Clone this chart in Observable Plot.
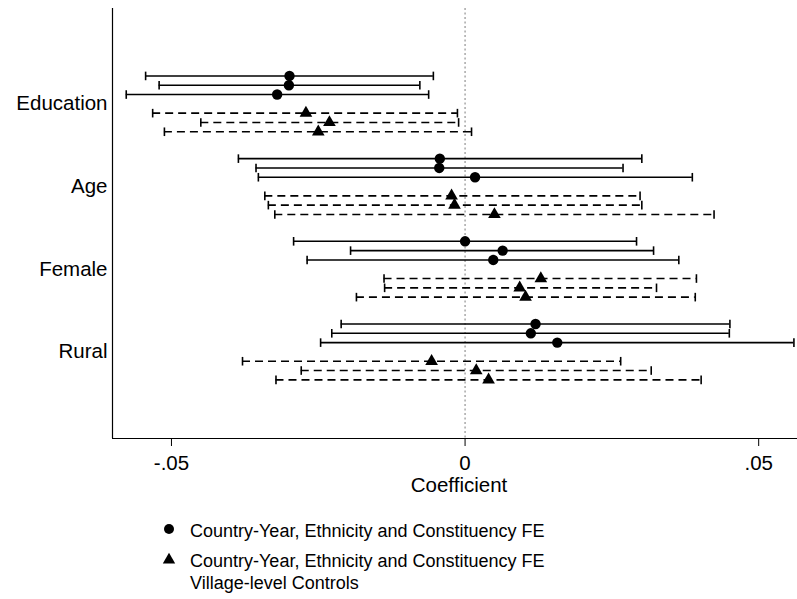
<!DOCTYPE html>
<html><head><meta charset="utf-8">
<script src="https://cdn.jsdelivr.net/npm/d3@7"></script>
<script src="https://cdn.jsdelivr.net/npm/@observablehq/plot@0.6"></script>
<style>
body{margin:0;background:#fff;font-family:"Liberation Sans",Arial,Helvetica,sans-serif;}
#wrap{position:relative;width:797px;height:599px;overflow:hidden;background:#fff;}
#chart{position:absolute;left:0;top:0;}
.lg{position:absolute;left:190px;font-size:18px;line-height:20px;color:#000;white-space:nowrap;}
.mk{position:absolute;left:162px;}
</style></head><body><div id="wrap"><div id="chart"></div></div>
<script>
// ---- data ----
const categories = ["Education", "Age", "Female", "Rural"];
const modelTypes = ["FE", "FE", "FE", "FE + Controls", "FE + Controls", "FE + Controls"];
const legendLabels = [
  ["Country-Year, Ethnicity and Constituency FE"],
  ["Country-Year, Ethnicity and Constituency FE", "Village-level Controls"]
];
const xTicks = [-0.05, 0, 0.05];
const xTickLabels = ["-.05", "0", ".05"];

// point estimates per category (6 models each)
const educationCoef = [-0.0299, -0.0300, -0.0320, -0.0271, -0.0231, -0.0250];
const ageCoef       = [-0.0043, -0.0044,  0.0017, -0.0023, -0.0018,  0.0050];
const femaleCoef    = [ 0.0000,  0.0064,  0.0048,  0.0129,  0.0093,  0.0103];
const ruralCoef     = [ 0.0120,  0.0112,  0.0157, -0.0057,  0.0019,  0.0040];
// lower CI bounds
const educationLo = [-0.0544, -0.0521, -0.0577, -0.0532, -0.0450, -0.0512];
const ageLo       = [-0.0386, -0.0356, -0.0352, -0.0341, -0.0335, -0.0324];
const femaleLo    = [-0.0292, -0.0195, -0.0269, -0.0138, -0.0137, -0.0185];
const ruralLo     = [-0.0211, -0.0227, -0.0246, -0.0379, -0.0279, -0.0322];
// upper CI bounds
const educationHi = [-0.0054, -0.0077, -0.0062, -0.0013, -0.0011,  0.0011];
const ageHi       = [ 0.0301,  0.0269,  0.0387,  0.0298,  0.0301,  0.0424];
const femaleHi    = [ 0.0292,  0.0321,  0.0364,  0.0394,  0.0326,  0.0392];
const ruralHi     = [ 0.0451,  0.0450,  0.0560,  0.0265,  0.0317,  0.0402];

// ---- table ----
const coefs = [educationCoef, ageCoef, femaleCoef, ruralCoef];
const los = [educationLo, ageLo, femaleLo, ruralLo];
const his = [educationHi, ageHi, femaleHi, ruralHi];
const rows = [];
categories.forEach((c, g) => {
  modelTypes.forEach((t, i) => {
    rows.push({cat: c, g, i, type: t, coef: coefs[g][i], lo: los[g][i], hi: his[g][i]});
  });
});
// layout of models within a category: 7 slots, middle one empty
const step = 0.1125;
const yPos = d => d.g + (((d.i < 3) ? d.i : d.i + 1) - 3) * step;
const solid = rows.filter(d => d.type === "FE");
const dashed = rows.filter(d => d.type !== "FE");

const xDomain = [-0.06004, 0.05661];
const yDomain = [4.047, -1.153];

const capSymbol = {draw(ctx, size) { const r = Math.sqrt(size / Math.PI); ctx.moveTo(0, -r); ctx.lineTo(0, r); }};

const font = "'Liberation Sans', Arial, Helvetica, sans-serif";
const axisFont = 20.5;
const plot = Plot.plot({
  width: 797,
  height: 505,
  marginLeft: 112,
  marginRight: 0,
  marginTop: 8,
  marginBottom: 67,
  style: {fontFamily: font, fontSize: axisFont + "px", background: "white", color: "black"},
  x: {domain: xDomain, axis: null},
  y: {domain: yDomain, axis: null},
  marks: [
    Plot.ruleX([0], {stroke: "#9a9a9a", strokeWidth: 1.3, strokeDasharray: "2,2.5"}),
    Plot.ruleY(solid, {y: yPos, x1: "lo", x2: "hi", stroke: "black", strokeWidth: 1.6}),
    Plot.ruleY(dashed, {y: yPos, x1: "lo", x2: "hi", stroke: "black", strokeWidth: 1.6, strokeDasharray: "8,5"}),
    Plot.dot(rows, {x: "lo", y: yPos, symbol: capSymbol, r: 4.3, fill: "none", stroke: "black", strokeWidth: 1.6}),
    Plot.dot(rows, {x: "hi", y: yPos, symbol: capSymbol, r: 4.3, fill: "none", stroke: "black", strokeWidth: 1.6}),
    Plot.dot(solid, {x: "coef", y: yPos, r: 5.2, fill: "black", stroke: "none"}),
    Plot.dot(dashed, {x: "coef", y: yPos, symbol: "triangle", r: 4.7, fill: "black", stroke: "none"}),
    Plot.ruleX([xDomain[0]], {stroke: "black", strokeWidth: 1.2}),
    Plot.ruleY([yDomain[0]], {stroke: "black", strokeWidth: 1.2}),
    Plot.axisX({ticks: xTicks, tickFormat: d => xTickLabels[xTicks.indexOf(d)], tickSize: 8, tickPadding: 9, fontSize: axisFont, label: null, stroke: "black"}),
    Plot.axisY({ticks: [0, 1, 2, 3], tickFormat: d => categories[d], tickSize: 0, tickPadding: 5, fontSize: axisFont, label: null}),
    Plot.text(["Coefficient"], {text: d => d, frameAnchor: "bottom", dy: 47, dx: 4, lineAnchor: "middle", fontSize: axisFont})
  ]
});
document.getElementById("chart").appendChild(plot);

// ---- legend (HTML below the plot) ----
const wrap = document.getElementById("wrap");
function addMarker(top, shape) {
  const ns = "http://www.w3.org/2000/svg";
  const s = document.createElementNS(ns, "svg");
  s.setAttribute("width", 14); s.setAttribute("height", 14);
  s.setAttribute("class", "mk");
  s.style.top = (top - 7) + "px";
  let el;
  if (shape === "circle") {
    el = document.createElementNS(ns, "circle");
    el.setAttribute("cx", 7); el.setAttribute("cy", 7); el.setAttribute("r", 5);
  } else {
    el = document.createElementNS(ns, "path");
    el.setAttribute("d", d3.symbol(d3.symbolTriangle, Math.PI * 4.6 * 4.6)());
    el.setAttribute("transform", "translate(7,8)");
  }
  el.setAttribute("fill", "black");
  s.appendChild(el);
  wrap.appendChild(s);
}
function addText(top, txt) {
  const d = document.createElement("div");
  d.className = "lg";
  d.style.top = top + "px";
  d.textContent = txt;
  wrap.appendChild(d);
}
addMarker(529, "circle");
addText(520.5, legendLabels[0][0]);
addMarker(559, "triangle");
addText(550.5, legendLabels[1][0]);
addText(572.5, legendLabels[1][1]);
</script>
</body></html>
